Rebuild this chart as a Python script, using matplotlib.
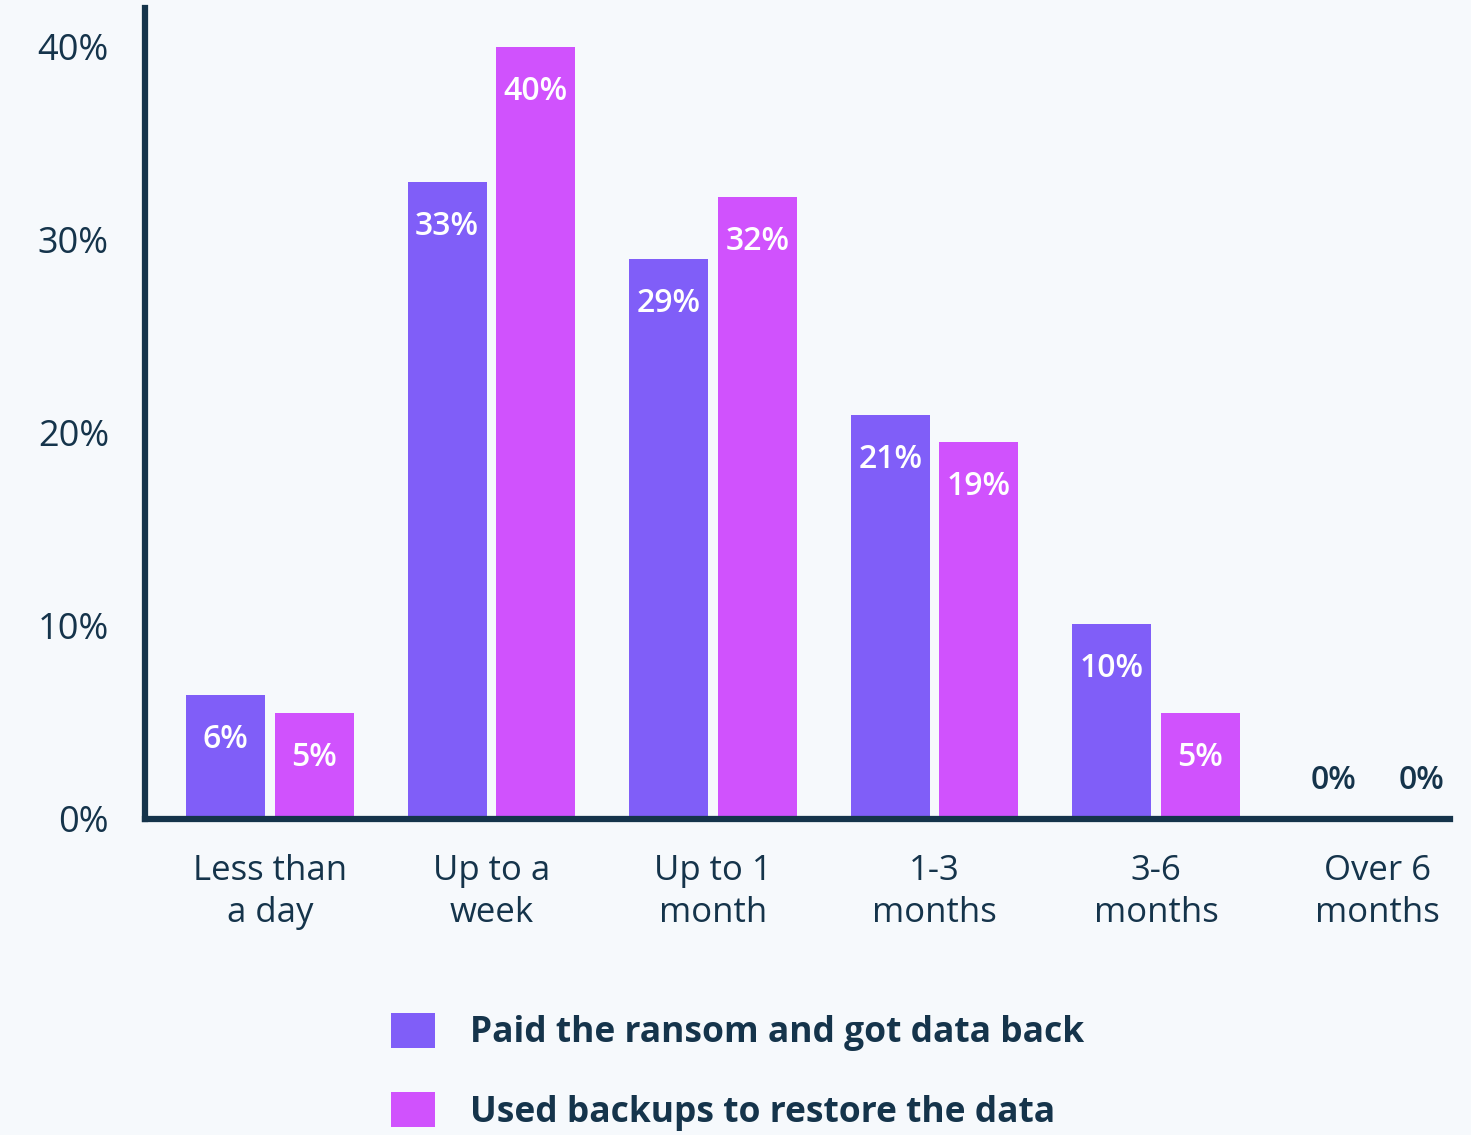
import matplotlib.pyplot as plt
import numpy as np
from matplotlib.patches import Patch

# DATA
categories = ['Less than\na day', 'Up to a\nweek', 'Up to 1\nmonth', '1-3\nmonths', '3-6\nmonths', 'Over 6\nmonths']
paid_values = [6.4, 33.0, 29.0, 20.9, 10.1, 0]
backup_values = [5.5, 40.0, 32.2, 19.5, 5.5, 0]
paid_labels = ['6%', '33%', '29%', '21%', '10%', '0%']
backup_labels = ['5%', '40%', '32%', '19%', '5%', '0%']
series_names = ['Paid the ransom and got data back', 'Used backups to restore the data']
y_ticks = [0, 10, 20, 30, 40]

# STYLE
BG = '#f6f9fc'
NAVY = '#15344b'
PURPLE = '#805ef8'
PINK = '#d052fd'
FONT = 'Open Sans'

fig = plt.figure(figsize=(14.71, 11.35), dpi=100, facecolor=BG)
ax = fig.add_axes([145 / 1471, 1 - 819 / 1135, (1450 - 145) / 1471, (819 - 8) / 1135])
ax.set_facecolor(BG)

x = np.arange(len(categories))
width = 0.357
off = 0.2

bars1 = ax.bar(x - off, paid_values, width, color=PURPLE, zorder=2)
bars2 = ax.bar(x + off, backup_values, width, color=PINK, zorder=2)

# bar labels: inside near top, dark above axis when zero
for bars, labels in ((bars1, paid_labels), (bars2, backup_labels)):
    for b, lab in zip(bars, labels):
        cx = b.get_x() + b.get_width() / 2
        h = b.get_height()
        if h > 0:
            ax.annotate(lab, (cx, h), xytext=(0, -32), textcoords='offset points',
                        ha='center', va='center', color='white', fontsize=23,
                        fontweight='semibold', family=FONT)
        else:
            ax.annotate(lab, (cx, h), xytext=(0, 28), textcoords='offset points',
                        ha='center', va='center', color=NAVY, fontsize=23,
                        fontweight='semibold', family=FONT)

ax.set_xlim(-0.564, 5.327)
ax.set_ylim(0, 42.0)
ax.set_yticks(y_ticks)
ax.set_yticklabels([f'{t}%' for t in y_ticks], fontsize=26, color=NAVY, family=FONT)
ax.set_xticks(x)
ax.set_xticklabels(categories, fontsize=25, color=NAVY, family=FONT, linespacing=1.3)
ax.tick_params(axis='y', length=0, pad=26)
ax.tick_params(axis='x', length=0, pad=25)

for s in ('top', 'right'):
    ax.spines[s].set_visible(False)
for s in ('left', 'bottom'):
    ax.spines[s].set_color(NAVY)
    ax.spines[s].set_linewidth(4.5)
    ax.spines[s].set_zorder(3)

# LEGEND
handles = [Patch(facecolor=PURPLE), Patch(facecolor=PINK)]
leg = fig.legend(handles, series_names, loc='upper left',
                 bbox_to_anchor=(366 / 1471, 1 - 988 / 1135), frameon=False,
                 prop={'family': FONT, 'weight': 'bold', 'size': 25.5},
                 handlelength=1.25, handleheight=1.15, handletextpad=1.0,
                 labelspacing=1.15, borderpad=0.2)
for t in leg.get_texts():
    t.set_color(NAVY)

fig.savefig('out.png', dpi=100, facecolor=BG)
